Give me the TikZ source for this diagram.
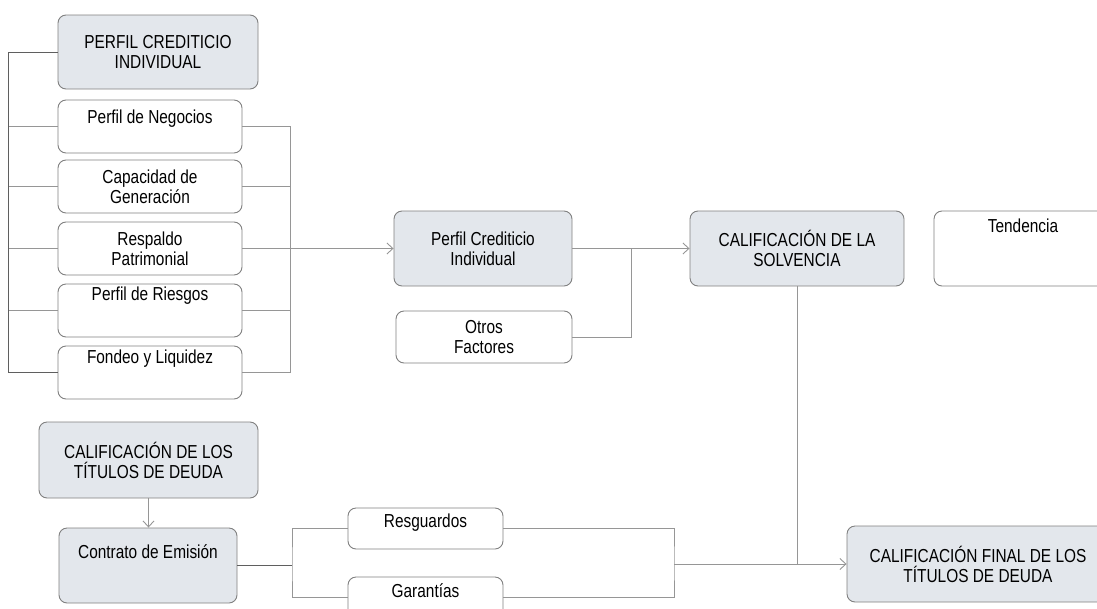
\documentclass[tikz,border=0pt]{standalone}
\usepackage{fontspec}
\setmainfont{Liberation Sans}[FakeStretch=0.82]
\usetikzlibrary{arrows.meta}
\definecolor{boxgray}{RGB}{227,231,236}
\definecolor{edgegray}{RGB}{128,128,128}
\definecolor{linegray}{RGB}{150,150,150}
\definecolor{darkline}{RGB}{95,95,95}

\begin{document}
\begin{tikzpicture}[x=1pt, y=-1pt,
    box/.style={draw=edgegray, rounded corners=8pt, line width=0.9pt, inner sep=0pt, align=center, font=\fontsize{18.8}{20}\selectfont, text=black},
    grey/.style={box, fill=boxgray},
    plain/.style={box, fill=white},
    link/.style={draw=linegray, line width=0.9pt},
    dlink/.style={draw=darkline, line width=0.9pt},
    arr/.style={link, -{Straight Barb[length=6pt,width=11pt]}}]
    \useasboundingbox (0,0) rectangle (1097,608);
    \clip (0,0) rectangle (1097,608);

    % perfil crediticio individual
    \node (pci) at (158,52) [grey, minimum width=200, minimum height=74] {PERFIL CREDITICIO\\INDIVIDUAL};
    \node (neg) at (150,126.5) [plain, minimum width=184, text height=23, text depth=30] {Perfil de Negocios};
    \node (cap) at (150,186.5) [plain, minimum width=184, minimum height=53] {Capacidad de\\Generación};
    \node (res) at (150,248.5) [plain, minimum width=184, minimum height=53] {Respaldo\\Patrimonial};
    \node (rie) at (150,310.5) [plain, minimum width=184, text height=16, text depth=37] {Perfil de Riesgos};
    \node (fon) at (150,372.5) [plain, minimum width=184, text height=17, text depth=36] {Fondeo y Liquidez};

    \draw[dlink] (pci.west) -- ++(-49,0) |- (fon.west);
    \foreach \n in {neg,cap,res,rie}
        \draw[link] (\n.west) -- ++(-49,0);
    \draw[link] (neg.east) -- ++(48,0) |- (fon.east);
    \foreach \n in {cap,res,rie}
        \draw[link] (\n.east) -- ++(48,0);
    \coordinate (rb) at (290,248.5);

    % solvencia
    \node (cred) at (483,248.5) [grey, minimum width=178, minimum height=75] {Perfil Crediticio\\Individual};
    \node (otros) at (484,337) [plain, minimum width=176, minimum height=52] {Otros\\Factores};
    \node (solv) at (797,248.5) [grey, minimum width=214, minimum height=75] {CALIFICACIÓN DE LA\\SOLVENCIA};
    \node (tend) at (1023,248.5) [plain, minimum width=178, text height=21, text depth=54] {Tendencia};
    \coordinate (mj) at (631,248.5);

    \draw[arr] (rb) -- (cred.west);
    \draw[link] (cred.east) -- (mj);
    \draw[link] (otros.east) -| (mj);
    \draw[arr] (mj) -- (solv.west);

    % titulos de deuda
    \node (ctd) at (148.5,460) [grey, minimum width=219, minimum height=76] {CALIFICACIÓN DE LOS\\TÍTULOS DE DEUDA};
    \node (emi) at (148,565.5) [grey, minimum width=178, text height=30, text depth=45] {Contrato de Emisión};
    \node (resg) at (425.5,528.5) [plain, minimum width=155, text height=19, text depth=22] {Resguardos};
    \node (gar) at (425.5,597.5) [plain, minimum width=155, text height=20, text depth=21] {Garantías};
    \node (fin) at (978,564) [grey, minimum width=262, minimum height=76] {CALIFICACIÓN FINAL DE LOS\\TÍTULOS DE DEUDA};
    \coordinate (lj) at (292,565.5);
    \coordinate (rj) at (674,564);

    \draw[arr] (ctd.south) -- (ctd.south |- emi.north);
    \draw[dlink] (emi.east) -- (lj);
    \draw[link] (resg.west) -| (lj) |- (gar.west);
    \draw[link] (resg.east) -| (rj) |- (gar.east);
    \draw[arr] (rj) -- (fin.west);
    \draw[link] (solv.south) -- (solv.south |- fin.west);
\end{tikzpicture}
\end{document}
